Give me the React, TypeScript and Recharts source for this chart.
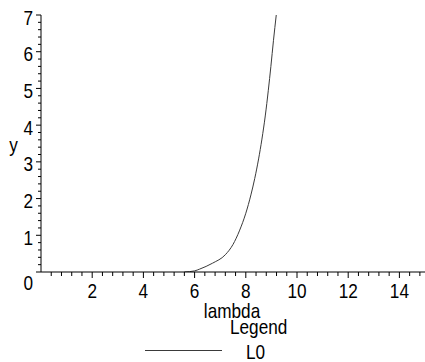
import React from "react";
import { LineChart, Line, XAxis, YAxis, Legend } from "recharts";

// Sampled points of the L0 curve
const lambdaValues = [5.6, 6.0, 6.2, 6.7, 7.2, 7.5, 7.75, 8.0, 8.2, 8.35, 8.5, 8.63, 8.76, 8.88, 8.98, 9.08, 9.19];
const l0Values = [0, 0.03, 0.08, 0.24, 0.47, 0.75, 1.12, 1.6, 2.1, 2.55, 3.08, 3.62, 4.25, 4.95, 5.6, 6.3, 7.0];

// Labelled (major) ticks
const xTickLabels = [2, 4, 6, 8, 10, 12, 14];
const yTickLabels = [0, 1, 2, 3, 4, 5, 6, 7];

const X_MAX = 15;
const Y_MAX = 7;
const X_MINOR_STEP = 0.4;
const Y_MINOR_STEP = 0.2;

const data = lambdaValues.map((lambda, i) => ({ lambda, y: l0Values[i] }));

const xTicks: number[] = [];
for (let i = 1; i * X_MINOR_STEP <= X_MAX + 1e-9; i++) xTicks.push(Math.round(i * X_MINOR_STEP * 10) / 10);
const yTicks: number[] = [];
for (let i = 0; i * Y_MINOR_STEP <= Y_MAX + 1e-9; i++) yTicks.push(Math.round(i * Y_MINOR_STEP * 10) / 10);

const FONT = "'Liberation Sans', Arial, sans-serif";
const FONT_SIZE = 20;
const SQUEEZE = 0.86;

const isLabelled = (v: number, labels: number[]) => labels.some((l) => Math.abs(l - v) < 1e-6);

// Tall, condensed label text
const NarrowText = ({ x, y, anchor = "start", children }: any) => (
  <text
    transform={`translate(${x},${y}) scale(${SQUEEZE},1)`}
    x={0}
    y={0}
    textAnchor={anchor}
    fontSize={FONT_SIZE}
    fontFamily={FONT}
    fill="#000"
  >
    {children}
  </text>
);

const XTick = (props: any) => {
  const { x, y, payload } = props;
  const major = isLabelled(payload.value, xTickLabels);
  return (
    <g>
      <line x1={x} y1={y} x2={x} y2={y + (major ? 6 : 4)} stroke="#000" strokeWidth={1} />
      {major && (
        <NarrowText x={x} y={y + 26} anchor="middle">
          {payload.value}
        </NarrowText>
      )}
    </g>
  );
};

const YTick = (props: any) => {
  const { x, y, payload } = props;
  const major = isLabelled(payload.value, yTickLabels);
  const baseline = payload.value === 0 ? y + 18 : y + 9.5;
  return (
    <g>
      <line x1={x} y1={y} x2={x - (major ? 5 : 3)} y2={y} stroke="#000" strokeWidth={1} />
      {major && (
        <NarrowText x={x - 8} y={baseline} anchor="end">
          {payload.value}
        </NarrowText>
      )}
    </g>
  );
};

const XLabel = (props: any) => {
  const { viewBox } = props;
  return (
    <NarrowText x={viewBox.x + viewBox.width / 2 - 1} y={viewBox.y + 46} anchor="middle">
      lambda
    </NarrowText>
  );
};

const YLabel = () => (
  <NarrowText x={13.5} y={152} anchor="middle">
    y
  </NarrowText>
);

const LegendBox = (props: any) => {
  const item = (props.payload && props.payload[0]) || { value: "L0", color: "#000" };
  return (
    <svg width={425} height={362} style={{ position: "absolute", left: 0, top: 0, overflow: "visible" }}>
      <NarrowText x={230} y={334}>
        Legend
      </NarrowText>
      <line x1={145} y1={350.5} x2={222} y2={350.5} stroke={item.color} strokeWidth={1} />
      <NarrowText x={246} y={359}>
        {item.value}
      </NarrowText>
    </svg>
  );
};

export default function App() {
  return (
    <div style={{ position: "absolute", left: 0, top: 0, width: 425, height: 362, background: "#fff" }}>
      <LineChart width={425} height={362} data={data} margin={{ top: 15, right: 0, bottom: 0, left: 0 }}>
        <XAxis
          dataKey="lambda"
          type="number"
          domain={[0, X_MAX]}
          ticks={xTicks}
          interval={0}
          tickSize={0}
          tickMargin={0}
          tickLine={false}
          tick={<XTick />}
          height={90}
          axisLine={{ stroke: "#000", strokeWidth: 1 }}
          label={<XLabel />}
          allowDataOverflow
        />
        <YAxis
          type="number"
          domain={[0, Y_MAX]}
          ticks={yTicks}
          interval={0}
          tickSize={0}
          tickMargin={0}
          tickLine={false}
          tick={<YTick />}
          width={41}
          axisLine={{ stroke: "#000", strokeWidth: 1 }}
          label={<YLabel />}
          allowDataOverflow
        />
        <Legend
          verticalAlign="middle"
          align="center"
          content={<LegendBox />}
          wrapperStyle={{ position: "absolute", left: 0, top: 0, width: 425, height: 362, pointerEvents: "none" }}
        />
        <Line
          type="monotone"
          dataKey="y"
          name="L0"
          stroke="#3a3a3a"
          strokeWidth={1}
          dot={false}
          isAnimationActive={false}
        />
      </LineChart>
    </div>
  );
}
